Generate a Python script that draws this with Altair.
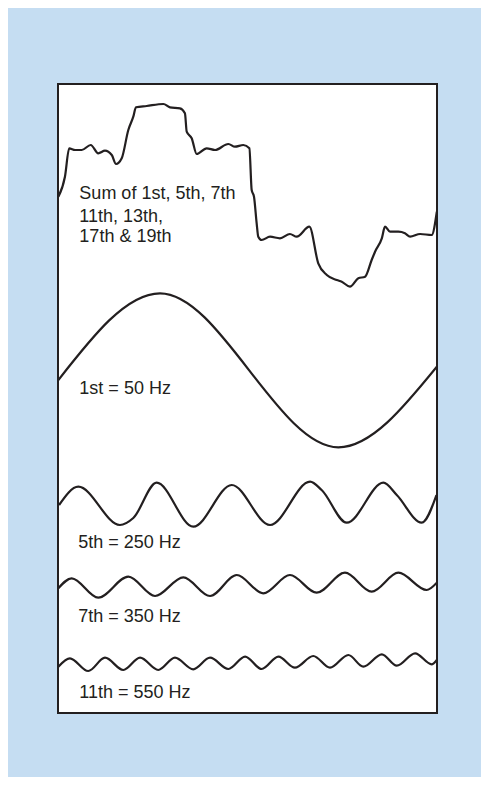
import altair as alt
import pandas as pd

# time axis in ms (one 50 Hz period = 20 ms); vertical values in arbitrary units
# each trace: sample times (ms) and amplitudes about its own baseline

sum_t = [0.02, 0.39, 0.63, 0.96, 1.33, 1.84, 2.26, 2.64, 3.02, 3.26, 3.58, 3.95, 4.23, 4.38,
         4.98, 5.92, 6.29, 6.85, 7.13, 7.23, 7.51, 7.79, 8.35, 8.82, 9.57, 9.94, 10.41, 10.75,
         10.88, 11.01, 11.16, 11.25, 11.44, 11.91, 12.47, 13.03, 13.41, 14.12, 14.62, 15.10,
         15.66, 15.94, 16.40, 16.87, 17.25, 17.62, 17.81, 18.19, 18.37, 18.65, 19.12, 19.49,
         19.78, 20.34, 20.99, 21.28]
sum_a = [-0.7, 19.3, 47.7, 46, 46, 51, 42.7, 45.3, 41, 32, 37.7, 66, 79.3, 88.7,
         90, 92, 88.7, 87.7, 82.7, 64.3, 57.7, 42, 47.7, 46, 52, 49.3, 51, 47.7,
         6, -0.7, -27.3, -40.7, -44, -40.7, -42.3, -38, -40.7, -30.7, -67.3, -79,
         -84, -85.7, -90.7, -82.3, -80.7, -64, -55.7, -42.3, -30.7, -35.7, -35.7, -37.3,
         -40.7, -38, -39, -15.7]

h1_t = [0.02, 5.73, 15.75, 21.28]
h1_a = [-10, 76.7, -77.3, 3.3]

h5_t = [0.06, 1.14, 3.48, 4.23, 5.54, 7.60, 9.76, 11.91, 14.16, 14.81, 16.22, 18.28, 19.03, 20.43, 21.26]
h5_a = [-1, 17.3, -21, -14, 21.3, -22.7, 19, -21, 22.3, 14, -18.7, 21.3, 9, -18.7, 9]

h7_t = [0.02, 0.77, 2.26, 3.95, 5.45, 7.04, 8.54, 10.04, 11.53, 13.03, 14.53, 16.12, 17.62,
        19.12, 20.71, 21.28]
h7_a = [-3.3, 6.7, -12.7, 8.3, -11, 7.7, -11, 10, -8.3, 10, -7.7, 12.3, -6.7, 12.3, -5, 2.3]

h11_t = [0.02, 0.67, 1.70, 2.64, 3.67, 4.61, 5.63, 6.57, 7.60, 8.54, 9.57, 10.51, 11.44, 12.38,
         13.31, 14.34, 15.28, 16.31, 17.15, 18.19, 19.03, 20.06, 20.99, 21.28]
h11_a = [-4.7, 3.7, -9, 4.3, -8, 4.3, -8, 4.3, -7.3, 4.3, -7, 5.3, -7, 5.3,
         -5.7, 6, -5.7, 7, -4.7, 7.7, -3.7, 8.7, -2.3, 2]

series_names = ["sum", "1st", "5th", "7th", "11th"]
baselines = [517, 343, 209, 128, 51]

label_text = ["Sum of 1st, 5th, 7th", "11th, 13th,", "17th & 19th",
              "1st = 50 Hz", "5th = 250 Hz", "7th = 350 Hz", "11th = 550 Hz"]
label_t = [1.2, 1.2, 1.2, 1.2, 1.14, 1.14, 1.2]
label_level = [514, 491.5, 471.3, 318.7, 164.7, 91.3, 14.7]

T_MAX = 21.29
Y_MAX = 629

rows = []
for name, base, ts, amps in zip(series_names, baselines,
                                [sum_t, h1_t, h5_t, h7_t, h11_t],
                                [sum_a, h1_a, h5_a, h7_a, h11_a]):
    for i, (t, a) in enumerate(zip(ts, amps)):
        rows.append({"series": name, "idx": i, "t": t, "level": base + a})
df = pd.DataFrame(rows)
labels = pd.DataFrame({"text": label_text, "t": label_t, "level": label_level})

INK = "#231f20"
xs = alt.Scale(domain=[0, T_MAX], nice=False, zero=False)
ys = alt.Scale(domain=[0, Y_MAX], nice=False, zero=False)

lines = alt.Chart(df).mark_line(interpolate="monotone", color=INK, strokeWidth=2.2, clip=True).encode(
    x=alt.X("t:Q", scale=xs, axis=None),
    y=alt.Y("level:Q", scale=ys, axis=None),
    detail="series:N",
    order="idx:Q",
)

texts = alt.Chart(labels).mark_text(
    align="left", baseline="alphabetic", font="Liberation Sans", fontSize=18, color=INK
).encode(
    x=alt.X("t:Q", scale=xs, axis=None),
    y=alt.Y("level:Q", scale=ys, axis=None),
    text="text:N",
)

chart = (lines + texts).properties(
    width=379, height=629,
    autosize=alt.AutoSizeParams(type="none"),
    padding={"left": 50, "top": 76, "right": 44, "bottom": 64},
    background="#c5ddf2",
).configure_view(fill="white", stroke=INK, strokeWidth=2)

chart.save("out.html", embed_options={"renderer": "svg", "actions": False})
